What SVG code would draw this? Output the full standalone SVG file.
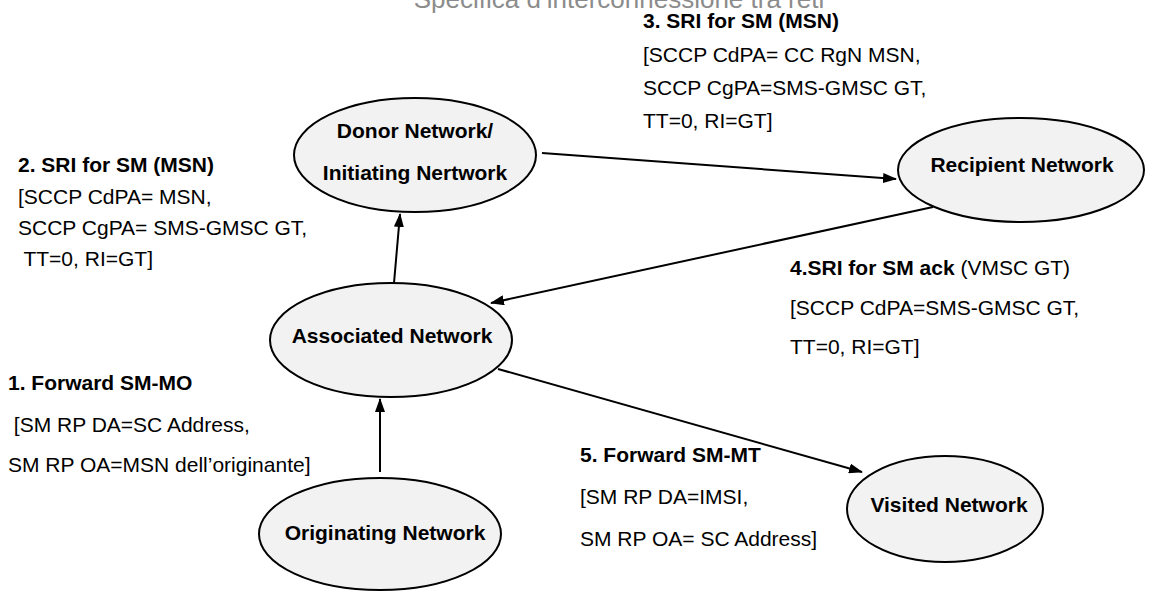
<svg xmlns="http://www.w3.org/2000/svg" width="1150" height="592" viewBox="0 0 1150 592">
  <style>
    .node { fill: #f2f2f2; stroke: #000; stroke-width: 2; }
    .nt { font-family: "Liberation Sans", Arial, sans-serif; font-size: 21px; font-weight: bold; fill: #000; text-anchor: middle; }
    .lb { font-family: "Liberation Sans", Arial, sans-serif; font-size: 21px; fill: #000; }
    .b { font-weight: bold; }
    .title { font-family: "Liberation Sans", Arial, sans-serif; font-size: 26px; fill: #8c8c8c; text-anchor: middle; }
    .edge { stroke: #000; stroke-width: 2; fill: none; marker-end: url(#arr); }
  </style>
  <defs>
    <marker id="arr" markerUnits="userSpaceOnUse" markerWidth="14" markerHeight="10" refX="13" refY="5" orient="auto">
      <path d="M0,0 L14,5 L0,10 z" fill="#000"/>
    </marker>
  </defs>
  <rect width="1150" height="592" fill="#fff"/>
  <text class="title" x="619" y="8">Specifica d’interconnessione tra reti</text>

  <g id="connectors">
    <line class="edge" x1="380" y1="472" x2="380" y2="399"/>
    <line class="edge" x1="394" y1="283" x2="400" y2="214"/>
    <line class="edge" x1="542" y1="153" x2="896" y2="179"/>
    <line class="edge" x1="933" y1="207" x2="491" y2="303"/>
    <line class="edge" x1="498" y1="369" x2="862" y2="472"/>
  </g>

  <g id="donor">
    <ellipse class="node" cx="415" cy="155" rx="121" ry="57"/>
    <text class="nt" x="415" y="138">Donor Network/</text>
    <text class="nt" x="415" y="180">Initiating Nertwork</text>
  </g>
  <g id="recipient">
    <ellipse class="node" cx="1021" cy="170" rx="123" ry="52"/>
    <text class="nt" x="1022" y="172">Recipient Network</text>
  </g>
  <g id="associated">
    <ellipse class="node" cx="391" cy="340" rx="121" ry="57"/>
    <text class="nt" x="392" y="343">Associated Network</text>
  </g>
  <g id="originating">
    <ellipse class="node" cx="380" cy="534" rx="121" ry="56"/>
    <text class="nt" x="385" y="540">Originating Network</text>
  </g>
  <g id="visited">
    <ellipse class="node" cx="945" cy="509" rx="98" ry="53"/>
    <text class="nt" x="949" y="512">Visited Network</text>
  </g>

  <g id="label1">
    <text class="lb b" x="8" y="390">1. Forward SM-MO</text>
    <text class="lb" x="8" y="432" xml:space="preserve"> [SM RP DA=SC Address,</text>
    <text class="lb" x="8" y="472">SM RP OA=MSN dell’originante]</text>
  </g>
  <g id="label2">
    <text class="lb b" x="18" y="172">2. SRI for SM (MSN)</text>
    <text class="lb" x="18" y="204">[SCCP CdPA= MSN,</text>
    <text class="lb" x="18" y="235">SCCP CgPA= SMS-GMSC GT,</text>
    <text class="lb" x="18" y="266" xml:space="preserve"> TT=0, RI=GT]</text>
  </g>
  <g id="label3">
    <text class="lb b" x="643" y="28">3. SRI for SM (MSN)</text>
    <text class="lb" x="643" y="62">[SCCP CdPA= CC RgN MSN,</text>
    <text class="lb" x="643" y="95">SCCP CgPA=SMS-GMSC GT,</text>
    <text class="lb" x="643" y="128">TT=0, RI=GT]</text>
  </g>
  <g id="label4">
    <text class="lb" x="790" y="275"><tspan class="b">4.SRI for SM ack</tspan> (VMSC GT)</text>
    <text class="lb" x="790" y="315">[SCCP CdPA=SMS-GMSC GT,</text>
    <text class="lb" x="790" y="354">TT=0, RI=GT]</text>
  </g>
  <g id="label5">
    <text class="lb b" x="580" y="462">5. Forward SM-MT</text>
    <text class="lb" x="580" y="504">[SM RP DA=IMSI,</text>
    <text class="lb" x="580" y="546">SM RP OA= SC Address]</text>
  </g>
</svg>
